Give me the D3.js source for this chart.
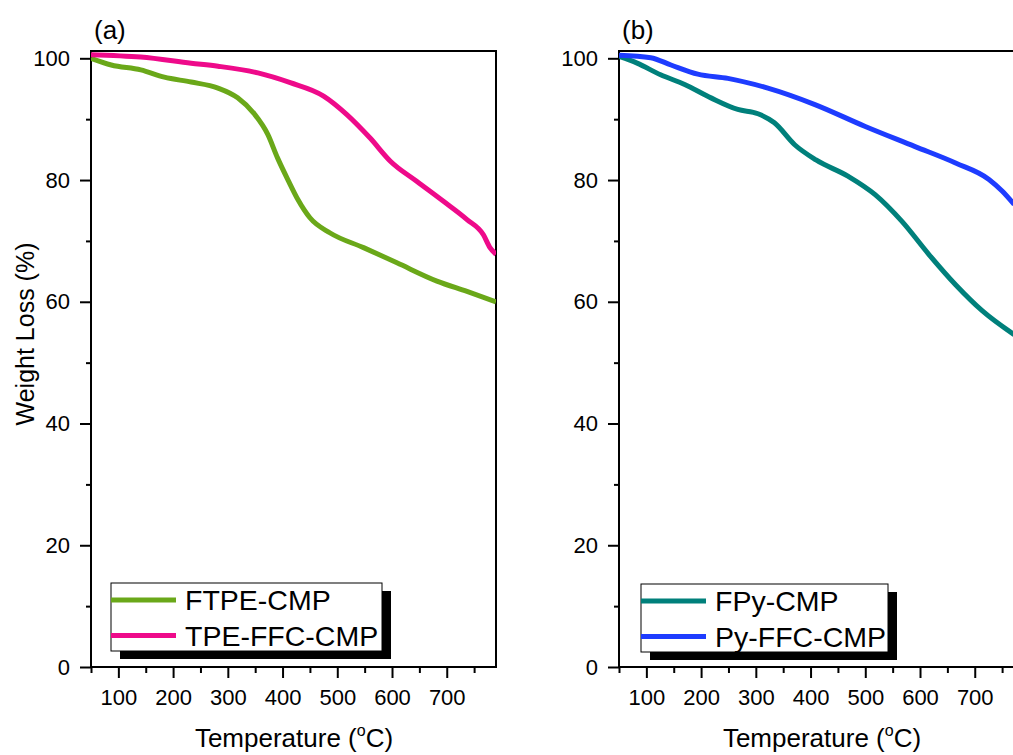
<!DOCTYPE html>
<html>
<head>
<meta charset="utf-8">
<script src="https://cdn.jsdelivr.net/npm/d3@7"></script>
<style>
  body { margin: 0; background: #fff; }
  svg { font-family: "Liberation Sans", Arial, sans-serif; }
</style>
</head>
<body>
<svg id="chart" width="1013" height="755"></svg>
<script>
// TGA curves (temperature in C, weight %)
var ftpeTemp = [50, 87, 141, 184, 233, 282, 318, 349, 373, 391, 410, 428, 450, 487, 548, 609, 682, 737, 790];
var ftpeWeight = [100.0, 98.9, 98.1, 96.9, 96.1, 95.1, 93.5, 90.8, 87.5, 83.6, 80.0, 76.8, 73.8, 71.3, 68.9, 66.4, 63.4, 61.7, 60.0];

var tpeTemp = [50, 141, 233, 282, 355, 414, 475, 517, 560, 597, 645, 694, 737, 767, 779, 790];
var tpeWeight = [100.6, 100.2, 99.2, 98.7, 97.6, 96.0, 93.8, 90.8, 86.9, 83.1, 79.8, 76.5, 73.5, 71.0, 68.9, 67.8];

var fpyTemp = [50, 83, 126, 170, 218, 267, 304, 334, 371, 410, 469, 518, 567, 616, 665, 714, 772];
var fpyWeight = [100.3, 99.2, 97.3, 95.7, 93.5, 91.6, 90.9, 89.4, 85.8, 83.3, 80.6, 77.6, 73.2, 67.8, 62.8, 58.5, 54.6];

var pyTemp = [50, 108, 145, 194, 249, 322, 408, 500, 591, 665, 726, 750, 772];
var pyWeight = [100.5, 100.1, 98.9, 97.4, 96.7, 95.1, 92.4, 88.8, 85.5, 82.8, 80.1, 78.2, 76.0];

var xTicks = [100, 200, 300, 400, 500, 600, 700];
var xMinor = [50, 150, 250, 350, 450, 550, 650, 750];
var yTicks = [0, 20, 40, 60, 80, 100];
var yMinor = [10, 30, 50, 70, 90];

var panels = [
  { id: "a", label: "(a)", left: 91, names: ["FTPE-CMP", "TPE-FFC-CMP"], colors: ["#6aa819", "#ee0a8a"],
    series: [[ftpeTemp, ftpeWeight], [tpeTemp, tpeWeight]], legend: { x: 111, y: 583, w: 271, h: 68 } },
  { id: "b", label: "(b)", left: 619, names: ["FPy-CMP", "Py-FFC-CMP"], colors: ["#00807b", "#1e3cff"],
    series: [[fpyTemp, fpyWeight], [pyTemp, pyWeight]], legend: { x: 641, y: 584, w: 247, h: 68 } }
];

var plotTop = 51, plotBottom = 667, pw = 405;
var svg = d3.select("#chart");

var y = d3.scaleLinear().domain([0, 101.2]).range([plotBottom, plotTop]);

panels.forEach(function (p) {
  var x = d3.scaleLinear().domain([50, 790]).range([p.left, p.left + pw]);
  var g = svg.append("g");

  g.append("clipPath").attr("id", "clip-" + p.id)
    .append("rect").attr("x", p.left).attr("y", plotTop).attr("width", pw).attr("height", plotBottom - plotTop);

  // x axis, major + minor
  g.append("g").attr("transform", "translate(0," + plotBottom + ")")
    .call(d3.axisBottom(x).tickValues(xTicks).tickSize(11).tickPadding(11).tickFormat(d3.format("d")));
  g.append("g").attr("transform", "translate(0," + plotBottom + ")")
    .call(d3.axisBottom(x).tickValues(xMinor).tickSize(6).tickFormat(""));

  // y axis
  g.append("g").attr("transform", "translate(" + p.left + ",0)")
    .call(d3.axisLeft(y).tickValues(yTicks).tickSize(11).tickPadding(10).tickFormat(d3.format("d")));
  g.append("g").attr("transform", "translate(" + p.left + ",0)")
    .call(d3.axisLeft(y).tickValues(yMinor).tickSize(5).tickFormat(""));

  g.selectAll(".domain").remove();
  g.selectAll(".tick line").attr("stroke", "#000").attr("stroke-width", 2);
  g.selectAll(".tick text").attr("font-size", 22).attr("fill", "#000")
    .attr("font-family", "'Liberation Sans', Arial, sans-serif");

  // frame
  g.append("rect").attr("x", p.left).attr("y", plotTop).attr("width", pw).attr("height", plotBottom - plotTop)
    .attr("fill", "none").attr("stroke", "#000").attr("stroke-width", 2);

  var line = d3.line()
    .x(function (d) { return x(d[0]); })
    .y(function (d) { return y(d[1]); })
    .curve(d3.curveMonotoneX);

  p.series.forEach(function (s, i) {
    var pts = s[0].map(function (t, j) { return [t, s[1][j]]; });
    g.append("path").datum(pts)
      .attr("clip-path", "url(#clip-" + p.id + ")")
      .attr("d", line)
      .attr("fill", "none")
      .attr("stroke", p.colors[i])
      .attr("stroke-width", 5);
  });

  // legend with drop shadow
  var L = p.legend;
  g.append("rect").attr("x", L.x + 9).attr("y", L.y + 8).attr("width", L.w).attr("height", L.h).attr("fill", "#000");
  g.append("rect").attr("x", L.x).attr("y", L.y).attr("width", L.w).attr("height", L.h)
    .attr("fill", "#fff").attr("stroke", "#000").attr("stroke-width", 1);
  p.names.forEach(function (n, i) {
    var ly = L.y + 17 + i * 35.5;
    g.append("line").attr("x1", L.x).attr("x2", L.x + 65).attr("y1", ly).attr("y2", ly)
      .attr("stroke", p.colors[i]).attr("stroke-width", 5);
    g.append("text").attr("x", L.x + 74).attr("y", ly + 10).attr("font-size", 28.5).text(n);
  });

  // panel label
  g.append("text").attr("x", p.left + 3).attr("y", 39).attr("font-size", 26).text(p.label);

  // x title
  var xt = g.append("text").attr("x", p.left + 203).attr("y", 747).attr("font-size", 26)
    .attr("text-anchor", "middle");
  xt.append("tspan").text("Temperature (");
  xt.append("tspan").attr("font-size", 16).attr("dy", -11).text("o");
  xt.append("tspan").attr("dy", 11).text("C)");
});

// y title (only on panel a)
svg.append("text")
  .attr("transform", "translate(34,334) rotate(-90)")
  .attr("text-anchor", "middle").attr("font-size", 25)
  .text("Weight Loss (%)");
</script>
</body>
</html>
